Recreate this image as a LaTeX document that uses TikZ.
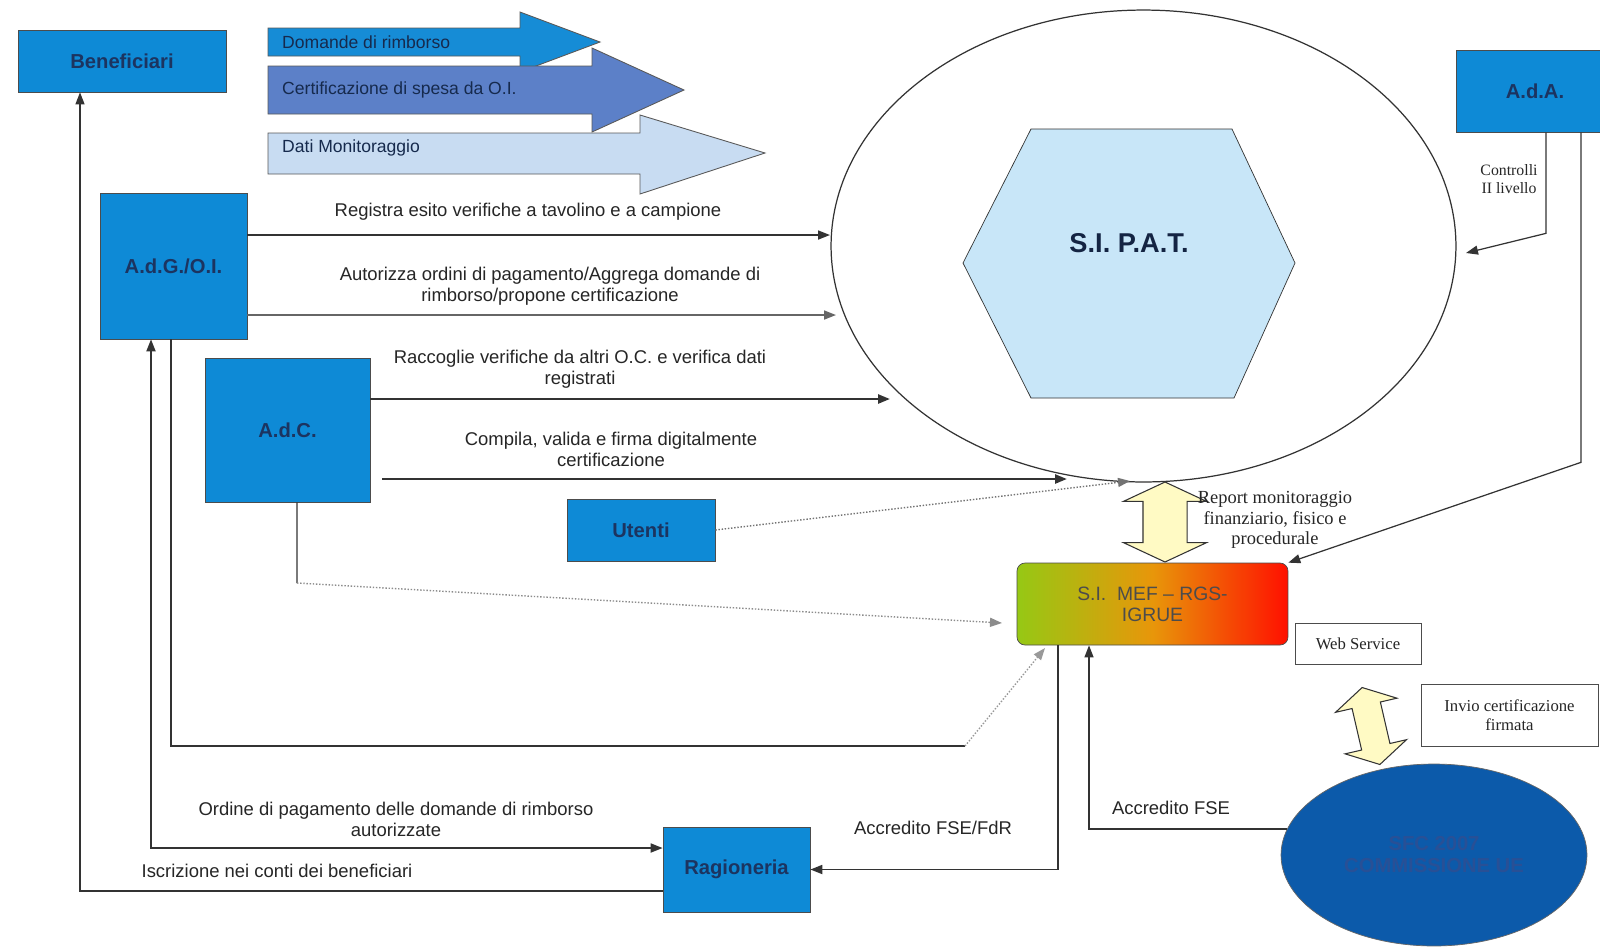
\documentclass[tikz,border=0pt]{standalone}
\usepackage{fontspec}
\setmainfont{Liberation Sans}
\newfontfamily\serifnote{Liberation Serif}
\usetikzlibrary{arrows.meta,shapes.geometric,shapes.arrows}
\definecolor{boxblue}{RGB}{14,138,214}
\definecolor{boxtext}{RGB}{28,52,96}
\definecolor{bandone}{RGB}{22,140,214}
\definecolor{bandtwo}{RGB}{92,128,200}
\definecolor{bandthree}{RGB}{200,220,242}
\definecolor{hexblue}{RGB}{200,230,248}
\definecolor{fatyellow}{RGB}{255,250,196}
\definecolor{mefgreen}{RGB}{150,200,20}
\definecolor{meforange}{RGB}{232,150,10}
\definecolor{mefred}{RGB}{255,16,0}
\definecolor{sfcblue}{RGB}{12,90,170}
\definecolor{sfctext}{RGB}{40,80,150}
\tikzset{
>={Triangle[length=2.4mm,width=1.8mm]}, % small filled heads
every node/.style={align=center},
box/.style={draw=black!70, fill=boxblue, text=boxtext, inner sep=0pt,
  font=\fontsize{11.5}{13}\selectfont\bfseries},
lbl/.style={font=\fontsize{10.5}{12}\selectfont, text=black!85},
bandlbl/.style={font=\fontsize{10}{12}\selectfont, text=boxtext!80!black, anchor=west},
note/.style={font=\serifnote\fontsize{9.5}{11}\selectfont, text=black!85},
band/.style={draw=black!65, line width=0.5pt},
flow/.style={->, draw=black!80, line width=1pt},
thinflow/.style={->, draw=black!80, line width=0.7pt},
dotflow/.style={->, draw=black!55, densely dotted, line width=0.8pt},
fat/.style={double arrow, draw=black!80, fill=fatyellow, inner xsep=0pt, line width=0.6pt}
}

\begin{document}
\begin{tikzpicture}[x=0.02cm, y=-0.02cm]
   \path[use as bounding box, fill=white] (0,0) rectangle (1600,948);

   % band arrows at the top
   \filldraw[band, fill=bandone] (268,28) -- (520,28) -- (520,12) -- (600,42) -- (520,72) -- (520,56) -- (268,56) -- cycle;
   \filldraw[band, fill=bandtwo] (268,66) -- (592,66) -- (592,48) -- (684,90) -- (592,132) -- (592,114) -- (268,114) -- cycle;
   \filldraw[band, fill=bandthree] (268,133) -- (640,133) -- (640,115) -- (765,153) -- (640,194) -- (640,174) -- (268,174) -- cycle;
   \node[bandlbl] (ldom)  at (276,42)  {Domande di rimborso};
   \node[bandlbl] (lcert) at (276,90)  {Certificazione di spesa da O.I.};
   \node[bandlbl] (ldati) at (276,148) {Dati Monitoraggio};

   % S.I. P.A.T.
   \node[draw=black!80, line width=0.7pt, ellipse, minimum width=12.5cm, minimum height=9.44cm, inner sep=0pt] (ring) at (1143.5,246) {};
   \filldraw[draw=black!80, fill=hexblue] (963,263) -- (1031,129) -- (1232,129) -- (1295,263) -- (1234,398) -- (1031,398) -- cycle;
   \node[font=\fontsize{15.5}{18}\selectfont\bfseries, text=boxtext!70!black] (sipat) at (1129,243) {S.I. P.A.T.};

   % actors
   \node[box, minimum width=4.16cm, minimum height=1.24cm] (benef)  at (122,61)      {Beneficiari};
   \node[box, minimum width=2.94cm, minimum height=2.92cm] (adg)    at (173.5,266)   {A.d.G./O.I.};
   \node[box, minimum width=3.3cm,  minimum height=2.88cm] (adc)    at (287.5,430)   {A.d.C.};
   \node[box, minimum width=2.96cm, minimum height=1.24cm] (utenti) at (641,530)     {Utenti};
   \node[box, minimum width=3.16cm, minimum height=1.64cm] (ada)    at (1535,91)     {A.d.A.};
   \node[box, minimum width=2.94cm, minimum height=1.7cm]  (ragion) at (736.5,869.5) {Ragioneria};
   \node[draw=black!70, rounded corners=0.16cm, left color=mefgreen, right color=mefred, middle color=meforange,
         minimum width=5.42cm, minimum height=1.64cm, text=black!70, font=\fontsize{11}{12}\selectfont] (mef) at (1152.5,604) {S.I.\ \ MEF -- RGS-\\IGRUE};
   \node[draw=black!70, note, minimum width=2.52cm, minimum height=0.82cm, inner sep=0pt] (websvc) at (1358,643.5) {Web Service};
   \node[draw=black!70, note, minimum width=3.54cm, minimum height=1.24cm, inner sep=0pt] (invio) at (1509.5,715) {Invio certificazione\\firmata};
   \node[ellipse, draw=black!60, fill=sfcblue, minimum width=6.12cm, minimum height=3.64cm, inner sep=0pt,
         text=sfctext, font=\fontsize{11.5}{12.5}\selectfont\bfseries] (sfc) at (1434,855) {SFC 2007\\COMMISSIONE UE};

   % exchange arrows
   \node[fat, rotate=90, inner ysep=0.43cm, minimum height=1.6cm, double arrow head extend=0.39cm, double arrow tip angle=130] (report) at (1165,522) {};
   \node[fat, rotate=103, inner ysep=0.28cm, minimum height=1.58cm, double arrow head extend=0.34cm, double arrow tip angle=120] (invioarrow) at (1371,726) {};

   % free ends
   \coordinate (regtip)  at (830,235);
   \coordinate (auttip)  at (836,315);
   \coordinate (ractip)  at (890,399);
   \coordinate (comptip) at (1067,479);
   \coordinate (uttip)   at (1130,481);
   \coordinate (ctrltip) at (1466,253);
   \coordinate (adcturn) at (297,583);
   \coordinate (adctip)  at (1002,623);
   \coordinate (adgturn) at (965,746);
   \coordinate (adgtip)  at (1045,648);

   \draw[flow] (adg.east |- regtip) -- (regtip);
   \draw[flow, draw=black!60] (adg.east |- auttip) -- (auttip);
   \draw[flow, line width=1.4pt] (adc.east |- ractip) -- (ractip);
   \draw[flow, line width=1.4pt, shorten <=0.24cm] (adc.east |- comptip) -- (comptip);
   \draw[dotflow] (utenti.east) -- (uttip);
   \draw[thinflow] ([xshift=0.22cm]ada.south) -- ++(0,101) -- (ctrltip);
   \draw[thinflow] ([xshift=0.92cm]ada.south) -- ++(0,330) -- (mef.north east);
   \draw[flow] ([xshift=-1.89cm]mef.south) |- (ragion.east);
   \draw[thinflow] (sfc.170) -| ([xshift=-1.27cm]mef.south);
   \draw[black!80, line width=0.6pt] ([xshift=0.19cm]adc.south) -- (adcturn);
   \draw[dotflow, draw=black!45] (adcturn) -- (adctip);
   \draw[black!80, line width=0.7pt] ([xshift=-0.05cm]adg.south) |- (adgturn);
   \draw[dotflow, draw=black!40] (adgturn) -- (adgtip);
   \draw[flow, <->] ([xshift=-0.45cm]adg.south) |- ([yshift=0.43cm]ragion.west);
   \draw[thinflow] ([yshift=-0.43cm]ragion.west) -| ([xshift=-0.84cm]benef.south);

   % labels
   \node[lbl] (lreg)  at (528,212) {Registra esito verifiche a tavolino e a campione};
   \node[lbl] (laut)  at (550,286) {Autorizza ordini di pagamento/Aggrega domande di\\rimborso/propone certificazione};
   \node[lbl] (lrac)  at (580,369) {Raccoglie verifiche da altri O.C. e verifica dati\\registrati};
   \node[lbl] (lcomp) at (611,449) {Compila, valida e firma digitalmente\\certificazione};
   \node[lbl] (lord)  at (396,819) {Ordine di pagamento delle domande di rimborso\\autorizzate};
   \node[lbl] (lisc)  at (277,871) {Iscrizione nei conti dei beneficiari};
   \node[lbl] (lfdr)  at (933,828) {Accredito FSE/FdR};
   \node[lbl] (lfse)  at (1171,808) {Accredito FSE};
   \node[note, font=\serifnote\fontsize{9}{10.3}\selectfont] (lctrl) at (1509,179) {Controlli\\II livello};
   \node[note, font=\serifnote\fontsize{10.5}{11.7}\selectfont] (lrep) at (1275,520) {Report monitoraggio\\finanziario, fisico e\\procedurale};
\end{tikzpicture}
\end{document}
